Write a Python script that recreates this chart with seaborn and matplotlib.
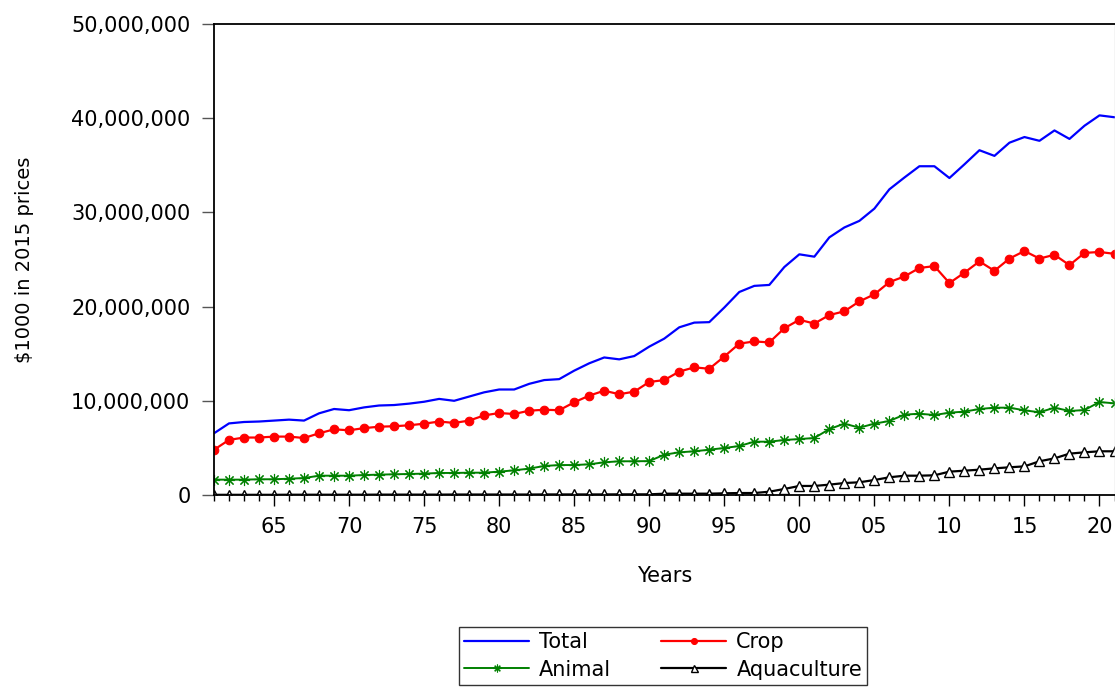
import matplotlib
matplotlib.use("Agg")
import matplotlib.pyplot as plt
import numpy as np
import pandas as pd
import seaborn as sns
from matplotlib.ticker import FixedLocator, MultipleLocator, FuncFormatter

# Gross production value, $1000 in 2015 prices (values in millions)
years = list(range(1961, 2022))

total = [6.55, 7.6, 7.75, 7.8, 7.9, 8.0, 7.9, 8.67, 9.13, 9.0,
         9.3, 9.5, 9.55, 9.7, 9.9, 10.2, 10.0, 10.45, 10.9, 11.2,
         11.2, 11.8, 12.2, 12.3, 13.2, 13.98, 14.6, 14.4, 14.75, 15.75,
         16.6, 17.8, 18.3, 18.35, 19.9, 21.55, 22.2, 22.3, 24.2, 25.55,
         25.3, 27.35, 28.4, 29.1, 30.4, 32.45, 33.7, 34.9, 34.9, 33.65,
         35.1, 36.6, 36.0, 37.4, 38.0, 37.6, 38.7, 37.8, 39.2, 40.3, 40.1]

crop = [4.8, 5.85, 6.1, 6.1, 6.2, 6.2, 6.05, 6.55, 6.97, 6.87,
        7.1, 7.25, 7.3, 7.4, 7.57, 7.8, 7.65, 7.9, 8.45, 8.7,
        8.6, 8.95, 9.05, 9.0, 9.84, 10.55, 11.07, 10.7, 10.97, 12.0,
        12.2, 13.1, 13.55, 13.4, 14.7, 16.07, 16.3, 16.2, 17.7, 18.6,
        18.2, 19.1, 19.5, 20.55, 21.3, 22.6, 23.2, 24.1, 24.3, 22.5,
        23.6, 24.8, 23.8, 25.1, 25.9, 25.1, 25.5, 24.4, 25.7, 25.8, 25.6]

animal = [1.63, 1.63, 1.63, 1.67, 1.67, 1.73, 1.8, 2.05, 2.05, 2.05,
          2.12, 2.16, 2.2, 2.23, 2.27, 2.34, 2.34, 2.37, 2.37, 2.48,
          2.62, 2.8, 3.08, 3.18, 3.18, 3.26, 3.47, 3.58, 3.58, 3.6,
          4.28, 4.53, 4.64, 4.81, 4.99, 5.2, 5.66, 5.66, 5.84, 5.94,
          6.05, 7.0, 7.57, 7.15, 7.57, 7.86, 8.53, 8.63, 8.49, 8.74,
          8.85, 9.13, 9.27, 9.27, 8.99, 8.78, 9.27, 8.92, 9.02, 9.87, 9.73]

aquaculture = [0.02, 0.02, 0.02, 0.02, 0.02, 0.03, 0.03, 0.03, 0.03, 0.03,
               0.03, 0.04, 0.04, 0.04, 0.04, 0.04, 0.05, 0.05, 0.05, 0.05,
               0.05, 0.05, 0.06, 0.06, 0.06, 0.06, 0.06, 0.07, 0.07, 0.07,
               0.14, 0.14, 0.14, 0.14, 0.18, 0.21, 0.21, 0.35, 0.64, 0.96,
               0.96, 1.1, 1.27, 1.35, 1.59, 1.88, 2.05, 2.05, 2.09, 2.48,
               2.58, 2.69, 2.83, 2.94, 3.04, 3.58, 3.89, 4.39, 4.53, 4.64, 4.64]

y_ticks = [0, 10_000_000, 20_000_000, 30_000_000, 40_000_000, 50_000_000]
x_major = [1965, 1970, 1975, 1980, 1985, 1990, 1995, 2000, 2005, 2010, 2015, 2020]

df = pd.DataFrame({
    "Year": years,
    "Total": np.array(total) * 1e6,
    "Crop": np.array(crop) * 1e6,
    "Animal": np.array(animal) * 1e6,
    "Aquaculture": np.array(aquaculture) * 1e6,
})

sns.set_style("ticks")
plt.rcParams["font.family"] = ["DejaVu Sans"]
for key in ["text.color", "axes.labelcolor", "xtick.color", "ytick.color", "axes.edgecolor"]:
    plt.rcParams[key] = "black"

fig = plt.figure(figsize=(11.15, 6.87), dpi=100)
ax = fig.add_axes([214 / 1115, 1 - 495 / 687, (1114.5 - 214) / 1115, (495 - 24) / 687])

styles = {
    "Total": dict(color="#0000ff", lw=1.6, marker=None),
    "Crop": dict(color="#ff0000", lw=1.6, marker="o", ms=6.2, mec="#ff0000", mfc="#ff0000"),
    "Animal": dict(color="#008000", lw=1.4, marker=(8, 2, 0), ms=8, mec="#008000", mew=0.8),
    "Aquaculture": dict(color="black", lw=1.6, marker="^", ms=7.2, mfc="white", mec="black", mew=1.0),
}

for name, st in styles.items():
    sns.lineplot(data=df, x="Year", y=name, ax=ax, label=name, **st)

ax.set_xlim(1961, 2021)
ax.set_ylim(0, 50_000_000)

ax.xaxis.set_major_locator(FixedLocator(x_major))
ax.xaxis.set_minor_locator(MultipleLocator(1))
ax.xaxis.set_major_formatter(FuncFormatter(lambda v, p: f"{int(round(v)) % 100:02d}"))
ax.yaxis.set_major_locator(FixedLocator(y_ticks))
ax.yaxis.set_major_formatter(FuncFormatter(lambda v, p: f"{int(v):,}"))

ax.tick_params(axis="x", which="major", direction="out", length=8, width=1, pad=8,
               labelsize=15, color="black", labelcolor="black")
ax.tick_params(axis="x", which="minor", direction="out", length=4, width=1, color="black")
ax.tick_params(axis="y", which="major", direction="out", length=9, width=1, pad=8,
               labelsize=15, color="#555555", labelcolor="black")

for side in ["left", "bottom", "top"]:
    ax.spines[side].set_color("black")
    ax.spines[side].set_linewidth(1.3)
ax.spines["right"].set_color("#cccccc")
ax.spines["right"].set_linewidth(1.0)

ax.set_xlabel("Years", fontsize=15, labelpad=21, color="black")
ax.set_ylabel("$1000 in 2015 prices", fontsize=14, labelpad=27, color="black")
ax.grid(False)

handles, labels = ax.get_legend_handles_labels()
if ax.get_legend():
    ax.get_legend().remove()
order = [labels.index(n) for n in ["Total", "Animal", "Crop", "Aquaculture"]]
leg = fig.legend([handles[i] for i in order], [labels[i] for i in order],
                 loc="upper left", bbox_to_anchor=(459 / 1115, 1 - 627 / 687),
                 ncol=2, fontsize=15, frameon=True, fancybox=False,
                 edgecolor="black", handlelength=3.1, handletextpad=0.5,
                 columnspacing=2.4, labelspacing=0.35, borderpad=0.25,
                 borderaxespad=0, markerscale=0.7, numpoints=1)
leg.get_frame().set_linewidth(1.0)
for t in leg.get_texts():
    t.set_color("black")

fig.savefig("out.png", dpi=100)
